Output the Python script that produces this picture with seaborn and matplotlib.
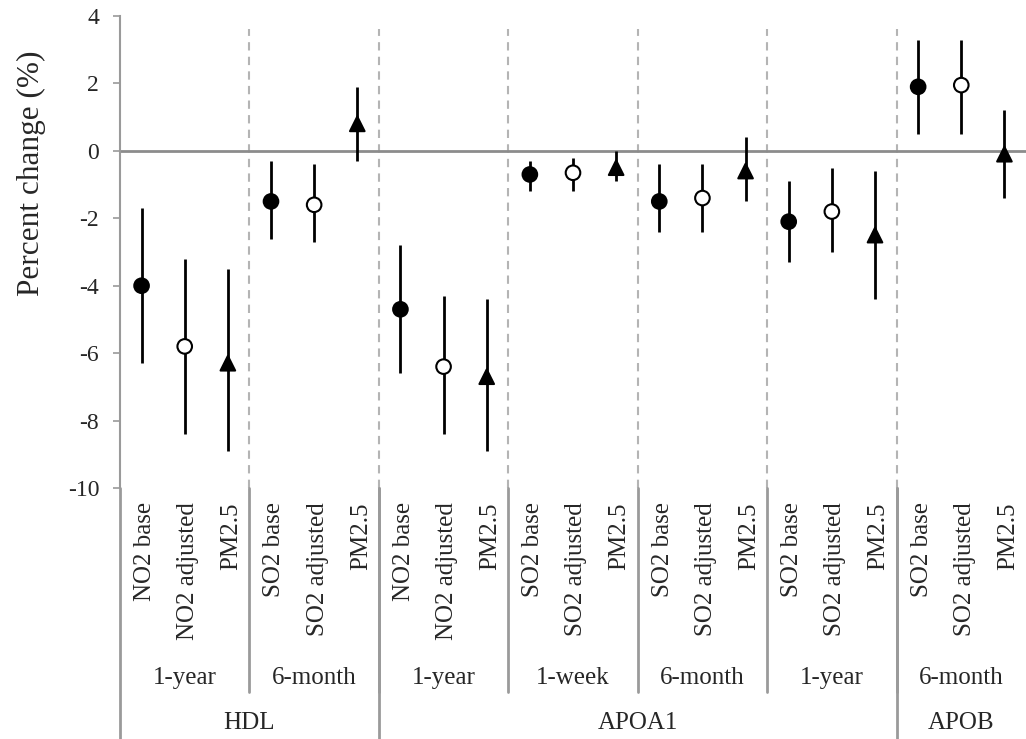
import pandas as pd
import matplotlib.pyplot as plt
import seaborn as sns

# Daten
outcomes = ["HDL", "APOA1", "APOB"]
outcome_spans = [2, 4, 1]  # Anzahl Zeitfenster je Outcome
windows = ["1-year", "6-month", "1-year", "1-week", "6-month", "1-year", "6-month"]
models = [
    "NO2 base", "NO2 adjusted", "PM2.5",
    "SO2 base", "SO2 adjusted", "PM2.5",
    "NO2 base", "NO2 adjusted", "PM2.5",
    "SO2 base", "SO2 adjusted", "PM2.5",
    "SO2 base", "SO2 adjusted", "PM2.5",
    "SO2 base", "SO2 adjusted", "PM2.5",
    "SO2 base", "SO2 adjusted", "PM2.5",
]
kinds = ["base", "adjusted", "pm"] * 7
estimate = [-4.0, -5.8, -6.3, -1.5, -1.6, 0.8, -4.7, -6.4, -6.7,
            -0.7, -0.65, -0.5, -1.5, -1.4, -0.6, -2.1, -1.8, -2.5,
            1.9, 1.95, -0.1]
lower = [-6.3, -8.4, -8.9, -2.6, -2.7, -0.3, -6.6, -8.4, -8.9,
         -1.2, -1.2, -0.9, -2.4, -2.4, -1.5, -3.3, -3.0, -4.4,
         0.5, 0.5, -1.4]
upper = [-1.7, -3.2, -3.5, -0.3, -0.4, 1.9, -2.8, -4.3, -4.4,
         -0.3, -0.2, 0.0, -0.4, -0.4, 0.4, -0.9, -0.5, -0.6,
         3.3, 3.3, 1.2]

df = pd.DataFrame({"pos": range(len(models)), "model": models, "kind": kinds,
                   "est": estimate, "lo": lower, "hi": upper})

sns.set_style("white")
plt.rcParams["font.family"] = ["Liberation Serif", "DejaVu Serif"]
plt.rcParams["axes.unicode_minus"] = False

fig = plt.figure(figsize=(10.26, 7.39), dpi=100)
ax = fig.add_axes([120 / 1026, 1 - 488 / 739, 906 / 1026, 472 / 739])

grey = "#9a9a9a"
# Trennlinien zwischen den Zeitfenstern
for b in range(1, 7):
    ax.plot([b * 3 - 0.5] * 2, [-10, 3.6], color="#b4b4b4", lw=1.5,
            ls=(0, (4, 3)), zorder=1)
ax.axhline(0, color="#8c8c8c", lw=2, zorder=1)

# Konfidenzintervalle
ax.vlines(df["pos"], df["lo"], df["hi"], color="black", lw=2, zorder=2)
sns.scatterplot(data=df, x="pos", y="est", hue="kind", style="kind",
                palette={"base": "black", "adjusted": "white", "pm": "black"},
                markers={"base": "o", "adjusted": "o", "pm": "^"},
                s=110, edgecolor="black", linewidth=1.5, zorder=3,
                legend=False, ax=ax)

ax.set_xlim(-0.5, 20.5)
ax.set_ylim(-10, 4)
ax.set_yticks(range(-10, 5, 2))
ax.set_xticks([])
ax.tick_params(axis="y", labelsize=17, length=5, width=1.2, color=grey,
               left=True, pad=10)
ax.set_xlabel("")
ax.set_ylabel("Percent change (%)", fontsize=22.5, va="center")
ax.yaxis.set_label_coords((31 - 120) / 906, (488 - 173) / 472)
for side in ["top", "right", "bottom"]:
    ax.spines[side].set_visible(False)
ax.spines["left"].set_color(grey)
ax.spines["left"].set_linewidth(1.5)

# Mehrstufige x-Achsenbeschriftung
tr = ax.get_xaxis_transform()
for i, m in enumerate(models):
    ax.text(i + 0.08, -0.03, m, rotation=90, ha="center", va="top",
            fontsize=18, transform=tr)
for g, w in enumerate(windows):
    ax.text(g * 3 + 1, (488 - 678) / 472, w, ha="center", va="center",
            fontsize=18, transform=tr)
for g in range(1, 7):
    ax.plot([g * 3 - 0.5] * 2, [0, (488 - 692) / 472], color=grey, lw=2,
            transform=tr, clip_on=False)
start = 0
for o, n in zip(outcomes, outcome_spans):
    ax.text(start * 3 + n * 1.5 - 0.5, (488 - 723) / 472, o, ha="center",
            va="center", fontsize=18, transform=tr)
    ax.plot([start * 3 - 0.5] * 2, [0, -0.54], color=grey, lw=2,
            transform=tr, clip_on=False)
    start += n

fig.savefig("out.png", dpi=100)
